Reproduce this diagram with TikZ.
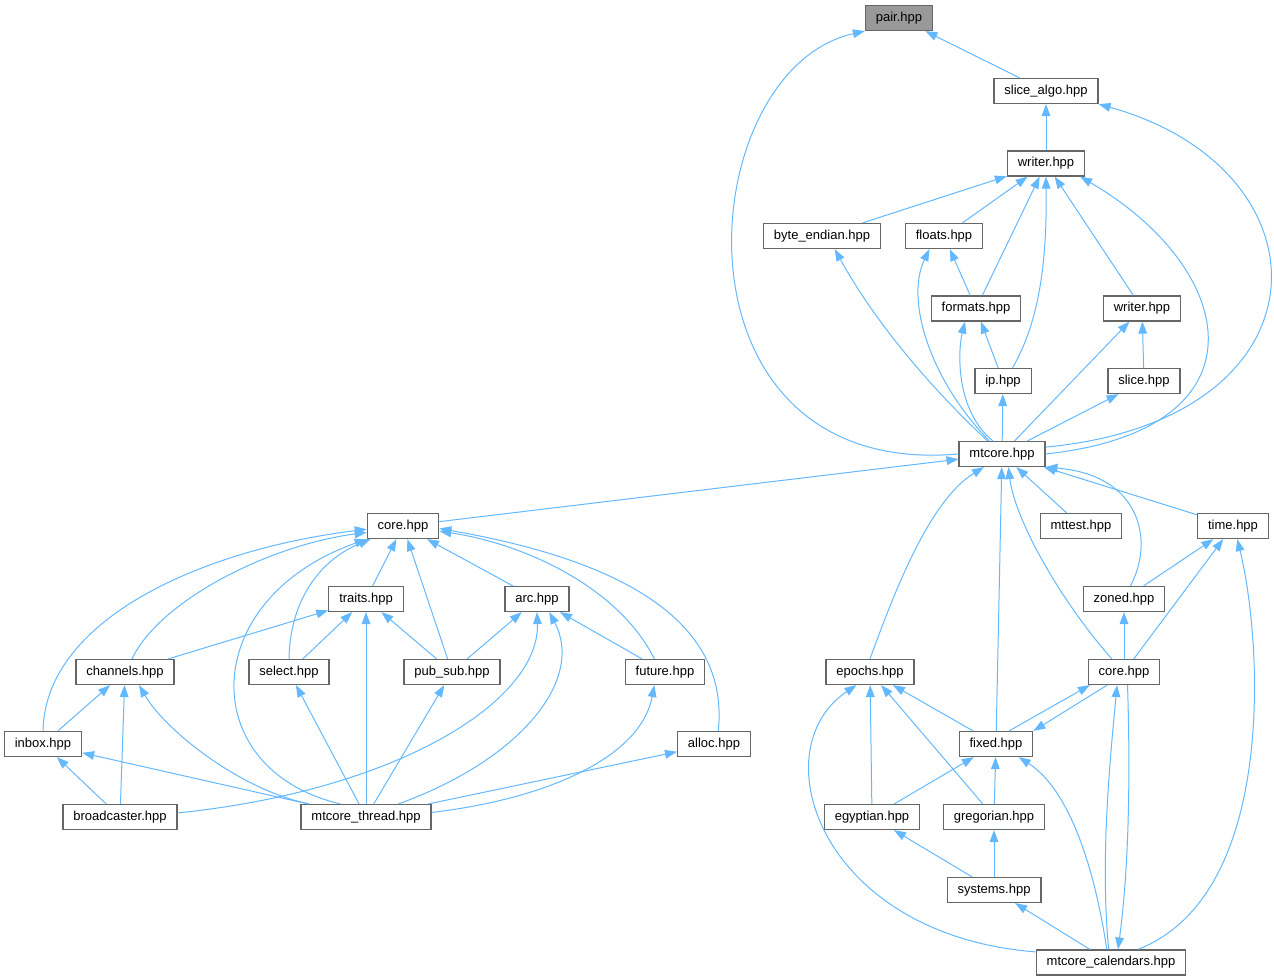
\documentclass[tikz,border=0pt]{standalone}
\usepackage{fontspec}
\setmainfont{Liberation Sans}
\usepackage{tikz}
\definecolor{EdgeBlue}{HTML}{63B8FF}
\definecolor{NodeGrey}{HTML}{666666}
\definecolor{RootGrey}{HTML}{999999}
\usetikzlibrary{arrows.meta}

\begin{document}
\begin{tikzpicture}[x=0.75pt, y=-0.75pt,
    font=\fontsize{9.75}{11}\selectfont,
    hdr/.style={shape=rectangle, draw=NodeGrey, fill=white,
      line width=0.9pt, minimum height=18.75pt,
      inner xsep=7.8pt, inner ysep=0pt},
    inc/.style={draw=EdgeBlue, line width=0.75pt,
      -{Triangle[length=9pt,width=6.5pt]}}]
    \path [use as bounding box] (0,0) rectangle (1274,980);

    \node[name=pair, hdr, fill=RootGrey] at (899,18) {pair.hpp};
    \node[name=slicealgo, hdr] at (1046,91) {slice\_algo.hpp};
    \node[name=writer, hdr] at (1046,163.5) {writer.hpp};
    \node[name=byteendian, hdr] at (822,236) {byte\_endian.hpp};
    \node[name=floats, hdr] at (944,236) {floats.hpp};
    \node[name=formats, hdr] at (976,308.5) {formats.hpp};
    \node[name=writerb, hdr] at (1142,308.5) {writer.hpp};
    \node[name=ip, hdr] at (1003,381) {ip.hpp};
    \node[name=slice, hdr] at (1144,381) {slice.hpp};
    \node[name=mtcore, hdr] at (1002,454) {mtcore.hpp};
    \node[name=corel, hdr] at (403,526) {core.hpp};
    \node[name=mttest, hdr] at (1081,526) {mttest.hpp};
    \node[name=time, hdr] at (1233,526) {time.hpp};
    \node[name=traits, hdr] at (366,599) {traits.hpp};
    \node[name=arc, hdr] at (537,599) {arc.hpp};
    \node[name=zoned, hdr] at (1124,599) {zoned.hpp};
    \node[name=channels, hdr] at (125,672) {channels.hpp};
    \node[name=select, hdr] at (289,672) {select.hpp};
    \node[name=pubsub, hdr] at (452,672) {pub\_sub.hpp};
    \node[name=future, hdr] at (665,672) {future.hpp};
    \node[name=epochs, hdr] at (870,672) {epochs.hpp};
    \node[name=corer, hdr] at (1124,672) {core.hpp};
    \node[name=inbox, hdr] at (43,744) {inbox.hpp};
    \node[name=alloc, hdr] at (714,744) {alloc.hpp};
    \node[name=fixed, hdr] at (996,744) {fixed.hpp};
    \node[name=broadcaster, hdr] at (120,817) {broadcaster.hpp};
    \node[name=mtct, hdr] at (366,817) {mtcore\_thread.hpp};
    \node[name=egyptian, hdr] at (872,817) {egyptian.hpp};
    \node[name=gregorian, hdr] at (994,817) {gregorian.hpp};
    \node[name=systems, hdr] at (994,890) {systems.hpp};
    \node[name=calendars, hdr] at (1111,962.5) {mtcore\_calendars.hpp};

    \path (slicealgo) edge[inc] (pair);
    \path (writer) edge[inc] (slicealgo);
    \path (byteendian) edge[inc] (writer);
    \path (floats) edge[inc] (writer);
    \path (formats) edge[inc] (writer);
    \path (writerb) edge[inc] (writer);
    \path (formats) edge[inc] (floats);
    \path (ip) edge[inc] (formats);
    \path (slice) edge[inc] (writerb);
    \path (mtcore) edge[inc] (writerb);
    \path (mtcore) edge[inc] (ip);
    \path (mtcore) edge[inc] (slice);
    \path (corel) edge[inc] (mtcore);
    \path (mttest) edge[inc] (mtcore);
    \path (time) edge[inc] (mtcore);
    \path (fixed) edge[inc] (mtcore);
    \path (zoned) edge[inc] (time);
    \path (corer) edge[inc] (time);
    \path (corer) edge[inc] (zoned);
    \path (fixed) edge[inc] (epochs);
    \path (egyptian) edge[inc] (epochs);
    \path (gregorian) edge[inc] (epochs);
    \path (egyptian) edge[inc] (fixed);
    \path (gregorian) edge[inc] (fixed);
    \path (systems) edge[inc] (egyptian);
    \path (systems) edge[inc] (gregorian);
    \path (calendars) edge[inc] (systems);
    \path (traits) edge[inc] (corel);
    \path (arc) edge[inc] (corel);
    \path (pubsub) edge[inc] (corel);
    \path (channels) edge[inc] (traits);
    \path (select) edge[inc] (traits);
    \path (pubsub) edge[inc] (traits);
    \path (mtct) edge[inc] (traits);
    \path (pubsub) edge[inc] (arc);
    \path (future) edge[inc] (arc);
    \path (inbox) edge[inc] (channels);
    \path (broadcaster) edge[inc] (channels);
    \path (mtct) edge[inc] (select);
    \path (mtct) edge[inc] (pubsub);
    \path (broadcaster) edge[inc] (inbox);
    \path (mtct) edge[inc] (inbox);
    \path (mtct) edge[inc] (alloc);

    \draw[inc] (mtcore.west) .. controls (660,480) and (690,70) .. (pair.south west);
    \draw[inc] (mtcore.9) .. controls (1335,420) and (1335,170) .. (slicealgo.south east);
    \draw[inc] (ip.54) .. controls (1040,320) and (1047,260) .. (writer.south);
    \draw[inc] (mtcore.east) .. controls (1270,430) and (1240,270) .. (writer.-21);
    \draw[inc] (mtcore.134) .. controls (930,380) and (905,300) .. (floats.222);
    \draw[inc] (mtcore.138) .. controls (929,386) and (875,322) .. (byteendian.-46);
    \draw[inc] (mtcore.125) .. controls (955,410) and (958,350) .. (formats.230);
    \draw[inc] (zoned.64) .. controls (1155,540) and (1140,475) .. (mtcore.south east);
    \draw[inc] (epochs.north) .. controls (895,590) and (930,500) .. (mtcore.216);
    \draw[inc] (corer.133) .. controls (1060,600) and (1015,520) .. (mtcore.-64);
    \draw[inc] (calendars.26) .. controls (1278,895) and (1262,640) .. (time.-72);
    \draw[inc] (calendars.172) .. controls (820,935) and (760,750) .. (epochs.224);
    \draw[inc] (calendars.100) .. controls (1100,860) and (1110,760) .. (corer.242);
    \draw[inc] (corer.285) .. controls (1130,760) and (1130,860) .. (calendars.62);
    \draw[inc] (calendars.108) .. controls (1095,870) and (1070,790) .. (fixed.-30);
    \draw[inc] (fixed.45) -- (corer.201);
    \draw[inc] (corer.218) -- (fixed.north east);
    \draw[inc] (select.north) .. controls (290,600) and (320,560) .. (corel.202);
    \draw[inc] (mtct.153) .. controls (196,770) and (196,600) .. (corel.south west);
    \draw[inc] (channels.62) .. controls (160,600) and (270,545) .. (corel.190);
    \draw[inc] (inbox.north) .. controls (45,620) and (200,550) .. (corel.185);
    \draw[inc] (future.129) .. controls (620,590) and (530,545) .. (corel.-8);
    \draw[inc] (alloc.72) .. controls (730,620) and (620,560) .. (corel.-4);
    \draw[inc] (broadcaster.4) .. controls (400,790) and (540,700) .. (arc.south);
    \draw[inc] (mtct.22) .. controls (520,760) and (585,680) .. (arc.-47);
    \draw[inc] (mtct.167) .. controls (240,790) and (165,730) .. (channels.-43);
    \draw[inc] (mtct.4) .. controls (540,800) and (640,760) .. (future.231);
  \end{tikzpicture}
\end{document}
